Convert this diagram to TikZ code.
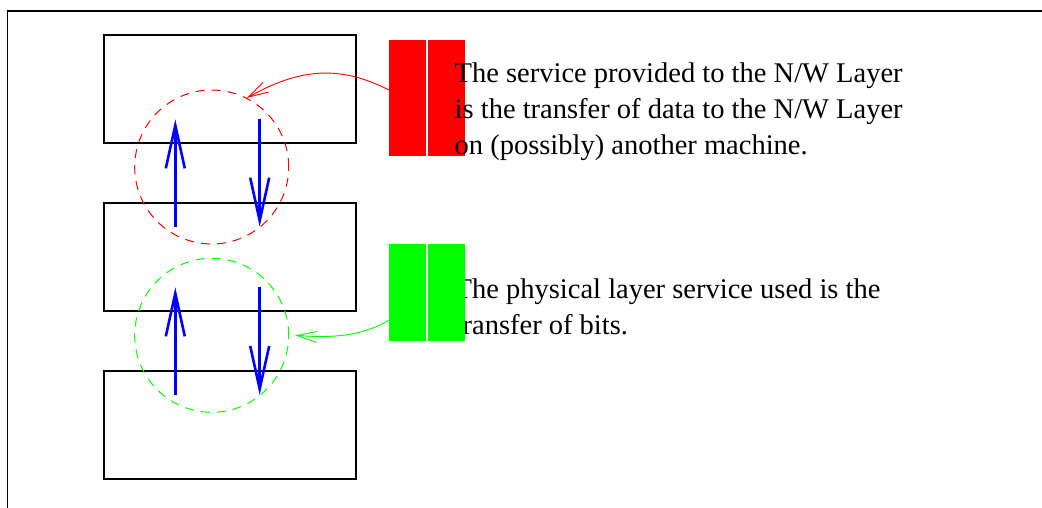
\documentclass[tikz,border=0pt]{standalone}
\usepackage{fontspec}
\setmainfont{Liberation Serif}
\usetikzlibrary{arrows.meta,calc}

\tikzset{
  layerbox/.style={draw=black, line width=1.2pt, minimum width=252pt, minimum height=108pt, inner sep=0pt},
  scopecircle/.style={circle, dash pattern=on 9pt off 7pt, line width=1pt, minimum size=154pt, inner sep=0pt},
  flow/.style={draw=blue, line width=2.6pt, -{Straight Barb[length=43pt, width=19pt, line width=2.6pt]}},
  pointer/.style={line width=0.9pt, -{Straight Barb[length=20pt, width=11pt, line width=0.9pt]}},
  swatch/.style={minimum width=37pt, minimum height=#1, inner sep=0pt, outer sep=0pt},
  note/.style={anchor=base west, inner sep=0pt, align=left, font=\fontsize{28.5}{36}\selectfont}
}

\begin{document}
\begin{tikzpicture}[x=1pt, y=-1pt]
  \useasboundingbox (0,0) rectangle (1042,508);

  % outer frame (only the top and left edges lie within the page)
  \coordinate (frameBL) at (7.5,508);
  \coordinate (frameTL) at (7.5,11);
  \coordinate (frameTR) at (1042,11);
  \draw[line width=1.2pt] (frameBL) -- (frameTL) -- (frameTR);

  % three stacked layers
  \node[layerbox] (top) at (230,89) {};
  \node[layerbox] (mid) at (230,257) {};
  \node[layerbox] (bot) at (230,425) {};

  % service boundaries
  \node[scopecircle, draw=red]  (rc) at (211.7,167) {};
  \node[scopecircle, draw=green] (gc) at (211.7,335.3) {};

  % data flows between layers
  \coordinate (u1s) at (175.3,226.7); \coordinate (u1e) at (175.3,119.3);
  \coordinate (d1s) at (259.7,119.3); \coordinate (d1e) at (259.7,226.7);
  \coordinate (u2s) at (175.3,395);   \coordinate (u2e) at (175.3,287.3);
  \coordinate (d2s) at (259.7,287.3); \coordinate (d2e) at (259.7,395);
  \draw[flow] (u1s) -- (u1e);
  \draw[flow] (d1s) -- (d1e);
  \draw[flow] (u2s) -- (u2e);
  \draw[flow] (d2s) -- (d2e);

  % red marker sits below its note
  \node[swatch=116pt, fill=red, anchor=north west] (redA) at (389,40) {};
  \node[swatch=116pt, fill=red, anchor=north west] (redB) at (428,40) {};

  % the base anchor of a multi-line note is the baseline of its last line
  \node[note] (noteA) at (454.5,154.3) {The service provided to the N/W Layer\\is the transfer of data to the N/W Layer\\on (possibly) another machine.};

  \node[note] (noteB) at (454.5,334.3) {The physical layer service used is the\\transfer of bits.};

  % green marker sits above its note
  \node[swatch=96.5pt, fill=green, anchor=north west] (grnA) at (389,244) {};
  \node[swatch=96.5pt, fill=green, anchor=north west] (grnB) at (428,244) {};

  % pointers from the markers to the boundaries
  \draw[pointer, red] ([yshift=8pt]redA.west) .. controls (340,65) and (300,68) .. (rc.63);
  \draw[pointer, green] ([yshift=-28pt]grnA.west) .. controls (360,337) and (330,338) .. ([xshift=6pt]gc.east);
\end{tikzpicture}
\end{document}
